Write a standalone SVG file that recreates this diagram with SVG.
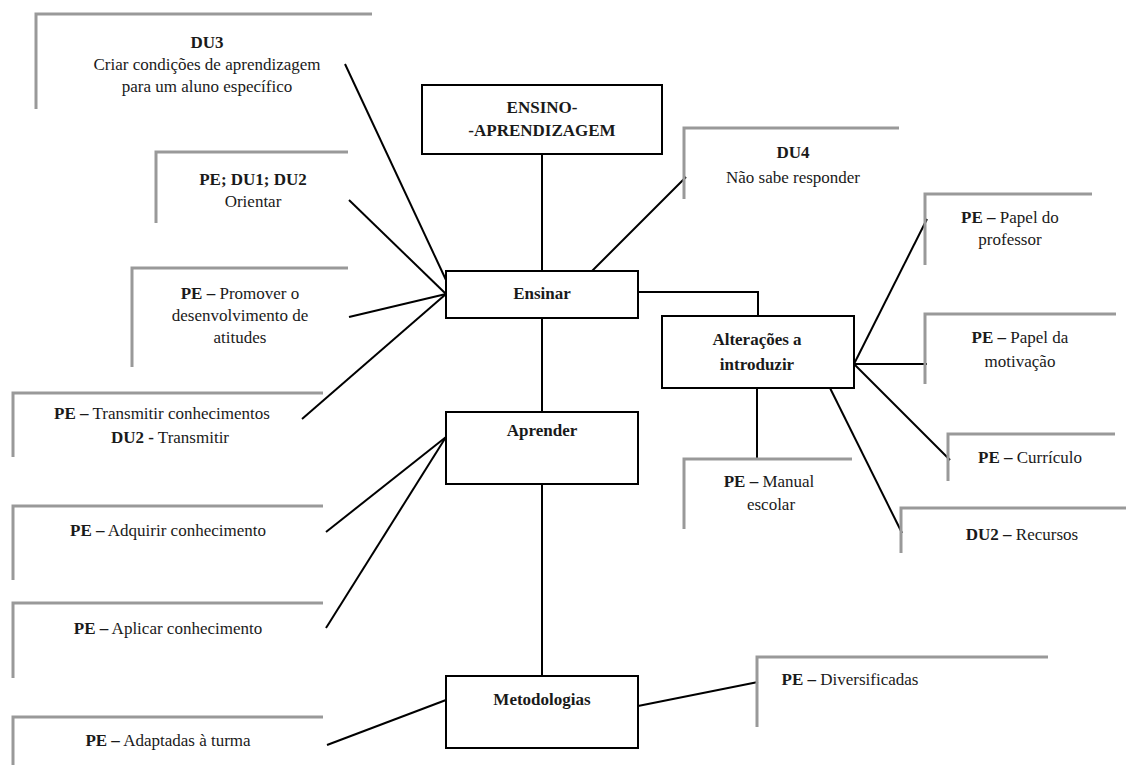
<svg xmlns="http://www.w3.org/2000/svg" width="1126" height="765" viewBox="0 0 1126 765" font-family="'Liberation Serif', 'DejaVu Serif', 'Times New Roman', serif">
<style>
text{font-family:'Liberation Serif','DejaVu Serif','Times New Roman',serif;font-size:17px;fill:#1a1a1a;text-anchor:middle}
.b{font-weight:bold}
.co{fill:none;stroke:#999;stroke-width:3}
.box{fill:#fff;stroke:#000;stroke-width:2}
.ln{fill:none;stroke:#000;stroke-width:2}
</style>
<rect width="1126" height="765" fill="#fff"/>
<g id="connectors">
<line class="ln" x1="542" y1="154" x2="542" y2="271"/>
<line class="ln" x1="542" y1="318" x2="542" y2="412"/>
<line class="ln" x1="542" y1="484" x2="542" y2="676"/>
<polyline class="ln" points="638,292 758,292 758,316"/>
<line class="ln" x1="345" y1="64" x2="446" y2="280"/>
<line class="ln" x1="349" y1="200" x2="446" y2="294"/>
<line class="ln" x1="349" y1="317" x2="446" y2="294"/>
<line class="ln" x1="302" y1="419" x2="446" y2="294"/>
<line class="ln" x1="686" y1="177" x2="590" y2="273"/>
<line class="ln" x1="326" y1="532" x2="446" y2="437"/>
<line class="ln" x1="326" y1="628" x2="446" y2="437"/>
<line class="ln" x1="327" y1="745" x2="446" y2="700"/>
<line class="ln" x1="638" y1="706" x2="758" y2="682"/>
<line class="ln" x1="854" y1="364" x2="927" y2="219"/>
<line class="ln" x1="854" y1="364" x2="927" y2="364"/>
<line class="ln" x1="854" y1="364" x2="950" y2="460"/>
<line class="ln" x1="830" y1="388" x2="902" y2="533"/>
<line class="ln" x1="757" y1="388" x2="757" y2="459"/>
</g>
<g id="n-ensino-aprendizagem">
<rect class="box" x="422" y="85" width="240" height="69"/>
<text class="b" x="542" y="113">ENSINO-</text>
<text class="b" x="542" y="136">-APRENDIZAGEM</text>
</g>
<g id="n-ensinar">
<rect class="box" x="446" y="271" width="192" height="47"/>
<text class="b" x="542" y="299">Ensinar</text>
</g>
<g id="n-aprender">
<rect class="box" x="446" y="412" width="192" height="72"/>
<text class="b" x="542" y="436">Aprender</text>
</g>
<g id="n-metodologias">
<rect class="box" x="446" y="676" width="192" height="72"/>
<text class="b" x="542" y="705">Metodologias</text>
</g>
<g id="n-alteracoes">
<rect class="box" x="662" y="316" width="192" height="72"/>
<text class="b" x="757" y="345">Alterações a</text>
<text class="b" x="757" y="370">introduzir</text>
</g>
<g id="c-du3">
<polyline class="co" points="36,109 36,14 372,14"/>
<text x="207" y="48" class="b">DU3</text>
<text x="207" y="70">Criar condições de aprendizagem</text>
<text x="207" y="92">para um aluno específico</text>
</g>
<g id="c-orientar">
<polyline class="co" points="156,223 156,152 348,152"/>
<text x="253" y="185" class="b">PE; DU1; DU2</text>
<text x="253" y="207">Orientar</text>
</g>
<g id="c-promover">
<polyline class="co" points="132,367 132,268 348,268"/>
<text x="240" y="299"><tspan class="b">PE –</tspan> Promover o</text>
<text x="240" y="321">desenvolvimento de</text>
<text x="240" y="343">atitudes</text>
</g>
<g id="c-transmitir">
<polyline class="co" points="13,457 13,393 323,393"/>
<text x="162" y="419"><tspan class="b">PE –</tspan> Transmitir conhecimentos</text>
<text x="170" y="443"><tspan class="b">DU2 -</tspan> Transmitir</text>
</g>
<g id="c-adquirir">
<polyline class="co" points="13,580 13,506 323,506"/>
<text x="168" y="536"><tspan class="b">PE –</tspan> Adquirir conhecimento</text>
</g>
<g id="c-aplicar">
<polyline class="co" points="13,678 13,603 323,603"/>
<text x="168" y="634"><tspan class="b">PE –</tspan> Aplicar conhecimento</text>
</g>
<g id="c-adaptadas">
<polyline class="co" points="13,765 13,717 323,717"/>
<text x="168" y="746"><tspan class="b">PE –</tspan> Adaptadas à turma</text>
</g>
<g id="c-du4">
<polyline class="co" points="684,199 684,128 899,128"/>
<text x="793" y="158" class="b">DU4</text>
<text x="793" y="183">Não sabe responder</text>
</g>
<g id="c-papel-professor">
<polyline class="co" points="925,265 925,194 1092,194"/>
<text x="1010" y="223"><tspan class="b">PE –</tspan> Papel do</text>
<text x="1010" y="245">professor</text>
</g>
<g id="c-papel-motivacao">
<polyline class="co" points="925,384 925,314 1116,314"/>
<text x="1020" y="343"><tspan class="b">PE –</tspan> Papel da</text>
<text x="1020" y="367">motivação</text>
</g>
<g id="c-curriculo">
<polyline class="co" points="948,481 948,434 1115,434"/>
<text x="1030" y="463"><tspan class="b">PE –</tspan> Currículo</text>
</g>
<g id="c-recursos">
<polyline class="co" points="901,553 901,508 1126,508"/>
<text x="1022" y="540"><tspan class="b">DU2 –</tspan> Recursos</text>
</g>
<g id="c-manual">
<polyline class="co" points="684,529 684,459 852,459"/>
<text x="769" y="487"><tspan class="b">PE –</tspan> Manual</text>
<text x="771" y="510">escolar</text>
</g>
<g id="c-diversificadas">
<polyline class="co" points="757,727 757,657 1048,657"/>
<text x="850" y="685"><tspan class="b">PE –</tspan> Diversificadas</text>
</g>
</svg>
